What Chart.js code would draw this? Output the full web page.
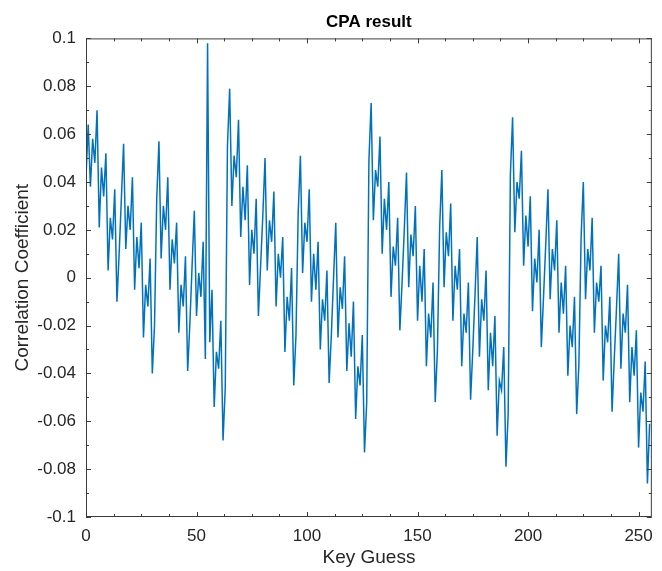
<!DOCTYPE html>
<html lang="en">
<head>
    <meta charset="UTF-8">
    <title>CPA result</title>
    <script src="https://cdn.jsdelivr.net/npm/chart.js"></script>
<style>
    html, body{margin: 0; padding: 0; background: #fff;}
    #wrap{width: 662px; height: 571px;}
</style>
</head>
<body>
    <div id="wrap">
        <canvas id="myChart" width="662" height="571"></canvas>
    </div>
    <script>
        // correlation per key guess, one array per 64 keys
        const corrBlock0 = [0.042, 0.064, 0.038, 0.058, 0.048, 0.070, 0.021, 0.046,
            0.034, 0.052, 0.003, 0.025, 0.016, 0.037, -0.010, 0.010,
            0.033, 0.056, 0.012, 0.030, 0.020, 0.042, -0.005, 0.017,
            0.004, 0.023, -0.025, -0.003, -0.012, 0.008, -0.040, -0.020,
            0.033, 0.057, 0.008, 0.030, 0.020, 0.042, -0.005, 0.016,
            0.006, 0.023, -0.023, -0.003, -0.012, 0.009, -0.039, -0.019,
            0.005, 0.028, -0.016, 0.002, -0.008, 0.015, -0.034, 0.098,
            -0.027, -0.005, -0.054, -0.031, -0.038, -0.018, -0.068, -0.046];
        const corrBlock1 = [0.055, 0.079, 0.030, 0.051, 0.042, 0.066, 0.017, 0.038,
            0.024, 0.047, -0.003, 0.020, 0.010, 0.033, -0.016, 0.005,
            0.026, 0.050, 0.003, 0.024, 0.015, 0.036, -0.012, 0.010,
            0.000, 0.017, -0.031, -0.008, -0.018, 0.004, -0.045, -0.024,
            0.027, 0.051, 0.002, 0.023, 0.015, 0.037, -0.010, 0.010,
            -0.005, 0.015, -0.030, -0.009, -0.018, 0.003, -0.044, -0.024,
            0.000, 0.023, -0.025, -0.004, -0.013, 0.009, -0.039, -0.019,
            -0.033, -0.010, -0.059, -0.037, -0.045, -0.024, -0.073, -0.052];
        const corrBlock2 = [0.049, 0.073, 0.024, 0.045, 0.038, 0.059, 0.010, 0.033,
            0.020, 0.040, -0.008, 0.013, 0.005, 0.025, -0.022, -0.002,
            0.020, 0.044, -0.004, 0.018, 0.009, 0.030, -0.018, 0.005,
            -0.010, 0.012, -0.037, -0.015, -0.025, -0.002, -0.052, -0.030,
            0.021, 0.045, -0.004, 0.019, 0.009, 0.031, -0.018, 0.005,
            -0.005, 0.012, -0.037, -0.015, -0.023, -0.002, -0.051, -0.030,
            -0.007, 0.017, -0.033, -0.009, -0.018, 0.003, -0.047, -0.023,
            -0.037, -0.016, -0.066, -0.043, -0.047, -0.029, -0.079, -0.057];
        const corrBlock3 = [0.043, 0.067, 0.019, 0.040, 0.033, 0.053, 0.005, 0.026,
            0.013, 0.034, -0.014, 0.008, -0.002, 0.020, -0.029, -0.008,
            0.014, 0.037, -0.009, 0.012, 0.003, 0.024, -0.023, -0.002,
            -0.015, 0.005, -0.041, -0.020, -0.029, -0.008, -0.057, -0.036,
            0.017, 0.040, -0.009, 0.012, 0.003, 0.025, -0.023, -0.002,
            -0.010, 0.005, -0.043, -0.020, -0.027, -0.008, -0.056, -0.034,
            -0.013, 0.010, -0.038, -0.015, -0.023, -0.003, -0.052, -0.029,
            -0.041, -0.022, -0.071, -0.048, -0.056, -0.035, -0.086, -0.061];

        const corr = corrBlock0.concat(corrBlock1, corrBlock2, corrBlock3);
        const keyGuess = corr.map((v, i) => i);

        const xTicks = [0, 50, 100, 150, 200, 250];
        const xMinorTicks = [12.5, 25, 37.5, 62.5, 75, 87.5, 112.5, 125, 137.5, 162.5, 175, 187.5, 212.5, 225, 237.5];
        const yTicks = [0.1, 0.08, 0.06, 0.04, 0.02, 0, -0.02, -0.04, -0.06, -0.08, -0.1];
        const yTickLabels = ['0.1', '0.08', '0.06', '0.04', '0.02', '0', '-0.02', '-0.04', '-0.06', '-0.08', '-0.1'];
        const yMinorTicks = [0.09, 0.07, 0.05, 0.03, 0.01, -0.01, -0.03, -0.05, -0.07, -0.09];

        const FONT = "'Liberation Sans', Arial, Helvetica, sans-serif";
        const AXIS = '#3c3c3c';

        // matlab style box with inward ticks on all four sides
        const boxPlugin = {
            id: 'box',
            afterDraw(chart) {
                const ctx = chart.ctx;
                const a = chart.chartArea;
                const xs = chart.scales.x, ys = chart.scales.y;
                ctx.save();
                ctx.strokeStyle = AXIS;
                ctx.lineWidth = 1;
                ctx.strokeRect(a.left + 0.5, a.top + 0.5, a.right - a.left - 1, a.bottom - a.top - 1);
                ctx.beginPath();
                function xt(v, len){
                    const px = Math.round(xs.getPixelForValue(v)) + 0.5;
                    ctx.moveTo(px, a.bottom); ctx.lineTo(px, a.bottom - len);
                    ctx.moveTo(px, a.top); ctx.lineTo(px, a.top + len);
                }
                function yt(v, len){
                    const py = Math.round(ys.getPixelForValue(v)) + 0.5;
                    ctx.moveTo(a.left, py); ctx.lineTo(a.left + len, py);
                    ctx.moveTo(a.right, py); ctx.lineTo(a.right - len, py);
                }
                xTicks.forEach(v => xt(v, 5));
                xMinorTicks.forEach(v => xt(v, 3));
                yTicks.forEach(v => yt(v, 5));
                yMinorTicks.forEach(v => yt(v, 3));
                ctx.stroke();
                ctx.restore();
            }
        };

        const ctx = document.getElementById('myChart');
        new Chart(ctx, {
            type: 'line',
            data: {
                datasets: [{
                    label: 'Correlation',
                    data: keyGuess.map((k, i) => ({x: k, y: corr[i]})),
                    borderColor: '#0072BD',
                    borderWidth: 1.5,
                    pointRadius: 0,
                    tension: 0,
                    fill: false
                }]
            },
            options: {
                responsive: false,
                animation: false,
                devicePixelRatio: 1,
                layout: {padding: {left: 0, right: 3, top: 0, bottom: 0}},
                plugins: {
                    legend: {display: false},
                    tooltip: {enabled: false},
                    title: {
                        display: true,
                        fullSize: false,
                        text: 'CPA result',
                        color: '#000',
                        font: {family: FONT, size: 17, weight: 'bold'},
                        padding: {top: 12, bottom: 6}
                    }
                },
                scales: {
                    x: {
                        type: 'linear',
                        min: 0,
                        max: 256,
                        grid: {display: false, drawTicks: false},
                        border: {display: false},
                        afterFit(scale){ scale.height = 54; },
                        afterBuildTicks(scale){ scale.ticks = xTicks.map(v => ({value: v})); },
                        ticks: {
                            color: '#262626',
                            padding: 9,
                            maxRotation: 0,
                            font: {family: FONT, size: 17}
                        },
                        title: {
                            display: true,
                            text: 'Key Guess',
                            color: '#262626',
                            font: {family: FONT, size: 19},
                            padding: {top: 2, bottom: 2}
                        }
                    },
                    y: {
                        min: -0.1,
                        max: 0.1,
                        grid: {display: false, drawTicks: false},
                        border: {display: false},
                        afterFit(scale){ scale.width = 86; },
                        afterBuildTicks(scale){ scale.ticks = yTicks.map(v => ({value: v})); },
                        ticks: {
                            color: '#262626',
                            padding: 10,
                            font: {family: FONT, size: 17},
                            callback: function(value){
                                const i = yTicks.findIndex(t => Math.abs(t - value) < 1e-9);
                                return i >= 0 ? yTickLabels[i] : '';
                            }
                        },
                        title: {
                            display: true,
                            text: 'Correlation Coefficient',
                            color: '#262626',
                            font: {family: FONT, size: 19},
                            padding: {top: 11, bottom: 11}
                        }
                    }
                }
            },
            plugins: [boxPlugin]
        });
    </script>
</body>
</html>
